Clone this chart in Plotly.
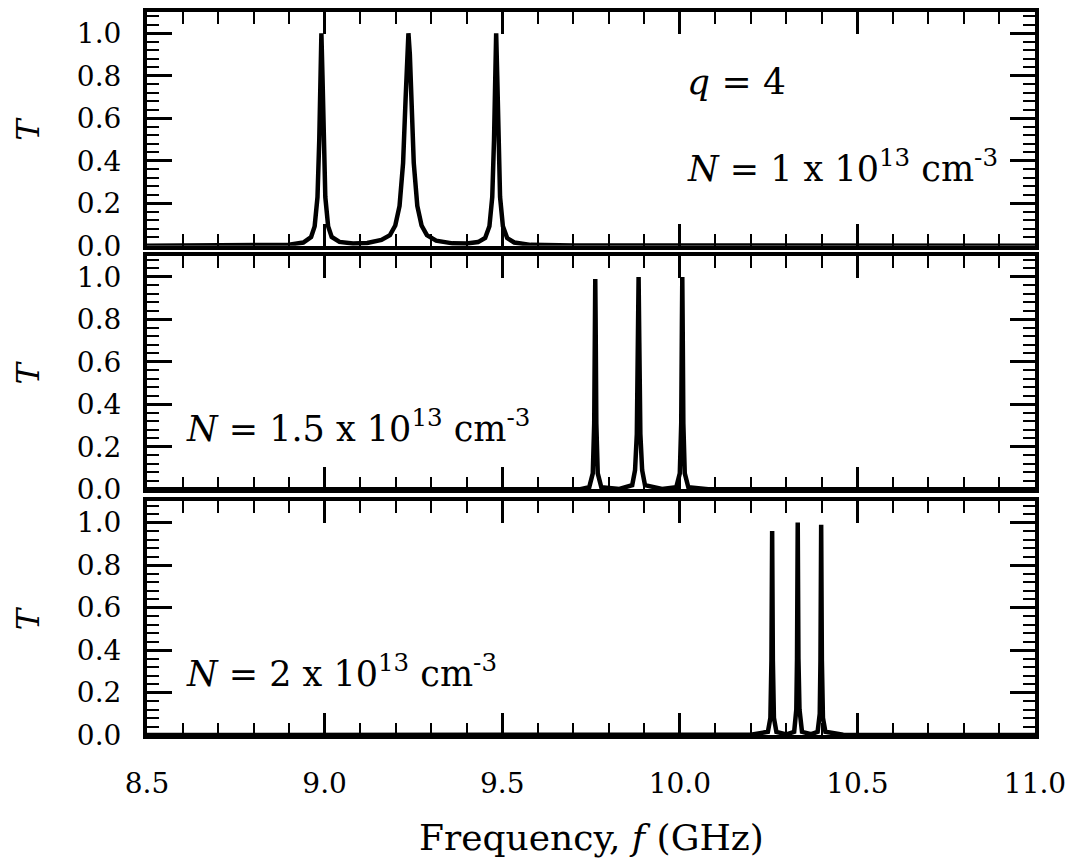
import plotly.graph_objects as go

# Transmission spectra T(f) for three carrier densities (q = 4)
f_n1 = [8.50, 8.90, 8.94, 8.962, 8.972, 8.980, 8.985, 8.988, 8.991, 8.994, 8.997, 9.002,
        9.010, 9.020, 9.042, 9.08, 9.12, 9.16, 9.184, 9.199, 9.211, 9.221, 9.228, 9.232,
        9.236, 9.240, 9.244, 9.251, 9.261, 9.273, 9.288, 9.314, 9.36, 9.40, 9.432, 9.452,
        9.464, 9.472, 9.477, 9.480, 9.483, 9.486, 9.489, 9.494, 9.502, 9.514, 9.534, 9.58,
        9.70, 11.0]
t_n1 = [0.000, 0.005, 0.015, 0.041, 0.091, 0.229, 0.50, 0.80, 1.00, 0.80, 0.50, 0.229,
        0.091, 0.041, 0.018, 0.010, 0.013, 0.027, 0.050, 0.095, 0.187, 0.39, 0.69, 0.90,
        1.00, 0.90, 0.69, 0.39, 0.187, 0.095, 0.050, 0.024, 0.011, 0.010, 0.017, 0.036,
        0.091, 0.229, 0.50, 0.80, 1.00, 0.80, 0.50, 0.229, 0.091, 0.036, 0.015, 0.004,
        0.001, 0.000]

f_n15 = [8.50, 9.72, 9.745, 9.755, 9.759, 9.761, 9.762, 9.763, 9.765, 9.769, 9.779, 9.83,
         9.866, 9.874, 9.879, 9.882, 9.884, 9.886, 9.889, 9.894, 9.902, 9.95, 9.990, 10.000,
         10.004, 10.006, 10.007, 10.008, 10.010, 10.014, 10.024, 10.08, 11.0]
t_n15 = [0.000, 0.001, 0.010, 0.075, 0.31, 0.80, 0.99, 0.80, 0.31, 0.075, 0.010, 0.002,
         0.020, 0.09, 0.26, 0.69, 1.00, 0.69, 0.26, 0.09, 0.020, 0.002, 0.010, 0.075,
         0.31, 0.80, 1.00, 0.80, 0.31, 0.075, 0.010, 0.001, 0.000]

f_n2 = [8.50, 10.20, 10.248, 10.255, 10.258, 10.260, 10.262, 10.265, 10.272, 10.30, 10.322,
        10.328, 10.330, 10.332, 10.334, 10.337, 10.344, 10.37, 10.388, 10.394, 10.396,
        10.398, 10.400, 10.403, 10.410, 10.46, 11.0]
t_n2 = [0.000, 0.001, 0.015, 0.08, 0.35, 0.96, 0.35, 0.08, 0.015, 0.003, 0.015,
        0.12, 0.36, 1.00, 0.36, 0.12, 0.015, 0.004, 0.015, 0.10, 0.35,
        0.99, 0.35, 0.08, 0.015, 0.001, 0.000]

x_ticks = [8.5, 9.0, 9.5, 10.0, 10.5, 11.0]
y_ticks = [0.0, 0.2, 0.4, 0.6, 0.8, 1.0]

FONT = "DejaVu Serif"
W, H = 1078, 859
L, R, T, B = 147, 43, 8, 124
plot_h = H - T - B

def dom(top_px, bot_px):
    return [(H - B - bot_px) / plot_h, (H - B - top_px) / plot_h]

panels = [(f_n1, t_n1, dom(8, 243)), (f_n15, t_n15, dom(253, 488)), (f_n2, t_n2, dom(500, 735))]

fig = go.Figure()
layout = dict(
    width=W, height=H,
    margin=dict(l=L, r=R, t=T, b=B),
    paper_bgcolor="white", plot_bgcolor="white",
    showlegend=False,
    font=dict(family=FONT, color="black", size=28),
)

for i, (fx, ty, d) in enumerate(panels, start=1):
    xa = "x" if i == 1 else f"x{i}"
    ya = "y" if i == 1 else f"y{i}"
    fig.add_trace(go.Scatter(x=fx, y=ty, mode="lines", xaxis=xa, yaxis=ya,
                             line=dict(color="black", width=4.5)))
    layout["xaxis" if i == 1 else f"xaxis{i}"] = dict(
        range=[8.5, 11.0], tickvals=x_ticks, tickformat=".1f",
        ticks="inside", ticklen=22, tickwidth=2.5, tickcolor="black",
        showticklabels=(i == 3), ticklabelstandoff=20,
        minor=dict(dtick=0.1, ticks="inside", ticklen=12, tickwidth=2, tickcolor="black"),
        showline=True, linewidth=4, linecolor="black", mirror="ticks",
        showgrid=False, zeroline=False, anchor=ya,
        matches=None if i == 1 else "x",
        tickfont=dict(family=FONT, size=28),
    )
    layout["yaxis" if i == 1 else f"yaxis{i}"] = dict(
        range=[0, 1.1], tickvals=y_ticks, tickformat=".1f", domain=d,
        ticks="inside", ticklen=25, tickwidth=2.5, tickcolor="black",
        ticklabelstandoff=16,
        minor=dict(dtick=0.04, ticks="inside", ticklen=12, tickwidth=2, tickcolor="black"),
        showline=True, linewidth=4, linecolor="black", mirror="ticks",
        showgrid=False, zeroline=False, anchor=xa,
        tickfont=dict(family=FONT, size=28),
    )

fig.update_layout(**layout)

ann = []
# y-axis titles
for i in range(1, 4):
    ya = "y" if i == 1 else f"y{i}"
    ann.append(dict(text="<i>T</i>", xref="paper", yref=f"{ya} domain", x=0, y=0.5,
                    xshift=-119, xanchor="center", yanchor="middle", textangle=-90,
                    showarrow=False, font=dict(family=FONT, size=32)))
# x-axis title
ann.append(dict(text="Frequency, <i>f</i> (GHz)", xref="paper", yref="paper", x=0.5, y=0,
                yshift=-102, xanchor="center", yanchor="middle", showarrow=False,
                font=dict(family=FONT, size=36)))
# panel labels
ann.append(dict(text="<i>q</i> = 4", xref="x", yref="y", x=10.015, y=0.775,
                xanchor="left", yanchor="middle", showarrow=False, font=dict(family=FONT, size=36)))
ann.append(dict(text="<i>N</i> = 1 x 10<sup>13</sup> cm<sup>-3</sup>", xref="x", yref="y",
                x=10.015, y=0.375, xanchor="left", yanchor="middle", showarrow=False,
                font=dict(family=FONT, size=35)))
ann.append(dict(text="<i>N</i> = 1.5 x 10<sup>13</sup> cm<sup>-3</sup>", xref="x2", yref="y2",
                x=8.604, y=0.30, xanchor="left", yanchor="middle", showarrow=False,
                font=dict(family=FONT, size=35)))
ann.append(dict(text="<i>N</i> = 2 x 10<sup>13</sup> cm<sup>-3</sup>", xref="x3", yref="y3",
                x=8.604, y=0.30, xanchor="left", yanchor="middle", showarrow=False,
                font=dict(family=FONT, size=35)))
fig.update_layout(annotations=ann)

fig.write_html("out.html")
